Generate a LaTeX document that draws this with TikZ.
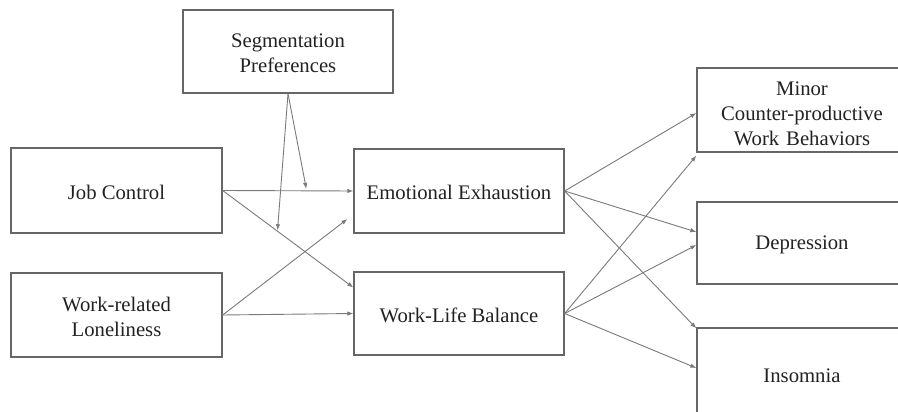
\documentclass[tikz,border=0pt]{standalone}
\usepackage{fontspec}
\setmainfont{Liberation Serif}
\usetikzlibrary{arrows.meta,calc}
\definecolor{boxline}{HTML}{666666}
\definecolor{arrline}{HTML}{7A7A7A}
\definecolor{txt}{HTML}{222222}
\newcommand{\tstrut}[1]{\rule{0pt}{#1}}
\begin{document}
\begin{tikzpicture}[x=1pt,y=-1pt,
  box/.style={draw=boxline, line width=1.3pt, fill=white, text=txt, align=center,
    inner sep=0pt, font=\fontsize{20.7}{25}\selectfont},
  arr/.style={draw=arrline, line width=0.9pt, -{Latex[length=6pt,width=4.5pt]}}]
\useasboundingbox[fill=white] (0,0) rectangle (898,412);
\node[box, minimum width=210pt, minimum height=83pt] (sp) at (288,51.5) {\tstrut{18pt}Segmentation\\Preferences};
\node[box, minimum width=211pt, minimum height=85pt] (jc) at (116.5,190.5) {\tstrut{18pt}Job Control};
\node[box, minimum width=211pt, minimum height=84pt] (wrl) at (116.5,315) {\tstrut{18pt}Work-related\\Loneliness};
\node[box, minimum width=210pt, minimum height=84pt] (ee) at (459,191) {\tstrut{18pt}Emotional Exhaustion};
\node[box, minimum width=210pt, minimum height=83pt] (wlb) at (459,313.5) {\tstrut{18pt}Work-Life Balance};
\node[box, minimum width=210pt, minimum height=84pt, text width=205pt] (mcwb) at (802,110) {\tstrut{22pt}Minor\\Counter-productive\\Work Behaviors};
\node[box, minimum width=210pt, minimum height=82pt] (dep) at (802,243) {\tstrut{18pt}Depression};
\node[box, minimum width=210pt, minimum height=92pt] (ins) at (802,374) {\tstrut{18pt}Insomnia};
% moderator targets
\coordinate (m1) at ($(jc.east)!0.64!(ee.west)$);
\coordinate (m2) at ($(jc.east)!0.42!($(wlb.west)+(0,-26)$)$);
\draw[arr] (sp.south) -- ($(m1)+(0,-2)$);
\draw[arr] (sp.south) -- ($(m2)+(0,-1)$);
% left to middle
\draw[arr] (jc.east) -- (ee.west);
\draw[arr] (jc.east) -- ($(wlb.west)+(0,-26)$);
\draw[arr] (wrl.east) -- ($(ee.west)+(-6,28)$);
\draw[arr] (wrl.east) -- (wlb.west);
% middle to right
\draw[arr] (ee.east) -- ($(mcwb.west)+(0,3)$);
\draw[arr] (ee.east) -- ($(dep.west)+(0,-11)$);
\draw[arr] (ee.east) -- ($(ins.north west)+(0,1)$);
\draw[arr] (wlb.east) -- ($(mcwb.south west)+(0,3)$);
\draw[arr] (wlb.east) -- ($(dep.west)+(0,2)$);
\draw[arr] (wlb.east) -- ($(ins.west)+(0,-6)$);
\end{tikzpicture}
\end{document}
